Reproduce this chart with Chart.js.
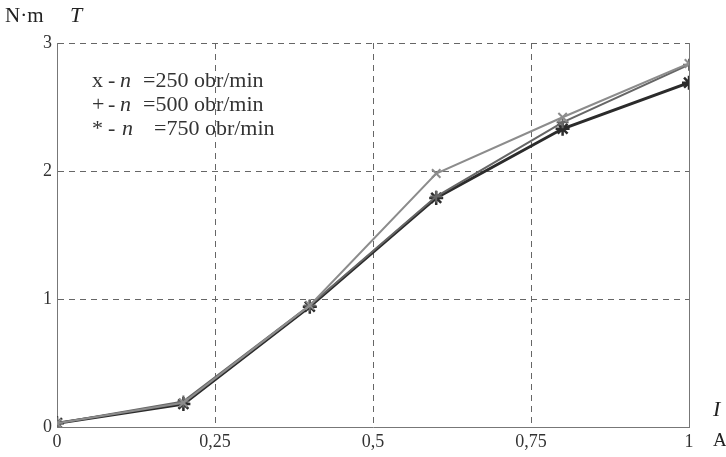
<!DOCTYPE html>
<html>
<head>
<meta charset="utf-8">
<script src="https://cdn.jsdelivr.net/npm/chart.js@4/dist/chart.umd.min.js"></script>
<style>
  html, body { margin: 0; padding: 0; background: #fff; }
  #chartArea { width: 726px; height: 457px; }
</style>
</head>
<body>
<div id="chartArea"><canvas id="myChart" width="726" height="457"></canvas></div>
<script>
// current I [A]
const currentLabel = [0, 0.2, 0.4, 0.6, 0.8, 1.0];
// torque T [N·m] for each speed
const torque250 = [0.03, 0.19, 0.95, 1.98, 2.42, 2.84];
const torque500 = [0.03, 0.2, 0.95, 1.8, 2.38, 2.83];
const torque750 = [0.03, 0.18, 0.94, 1.79, 2.33, 2.69];
const xTicks = [0, 0.25, 0.5, 0.75, 1];
const yTicks = [0, 1, 2, 3];
const legendLabels = ['=250 obr/min', '=500 obr/min', '=750 obr/min'];
const legendMarks = ['x', '+', '*'];

const serif = '"Liberation Serif", "Times New Roman", serif';

function toPoints(values) {
  return currentLabel.map((x, i) => ({ x: x, y: values[i] }));
}

// draws axis titles, the in-plot legend and the right frame
const extraText = {
  id: 'extraText',
  afterDraw(chart) {
    const ctx = chart.ctx;
    const area = chart.chartArea;
    ctx.save();
    ctx.strokeStyle = '#777';
    ctx.lineWidth = 1;
    ctx.beginPath();
    ctx.moveTo(area.right + 0.5, area.top);
    ctx.lineTo(area.right + 0.5, area.bottom);
    ctx.stroke();

    ctx.fillStyle = '#222';
    ctx.textBaseline = 'middle';
    ctx.textAlign = 'left';
    ctx.font = '21px ' + serif;
    ctx.fillText('N·m', 5, 16);
    ctx.font = 'italic 22px ' + serif;
    ctx.fillText('T', 70, 16);
    ctx.fillText('I', 713, 410);
    ctx.font = '19px ' + serif;
    ctx.fillText('A', 713, 441);

    ctx.fillStyle = '#333';
    legendLabels.forEach((label, i) => {
      const y = 81 + i * 24;
      ctx.font = '22px ' + serif;
      ctx.fillText(legendMarks[i], 92, y);
      ctx.fillText('-', 108, y);
      ctx.font = 'italic 22px ' + serif;
      ctx.fillText('n', i == 2 ? 122 : 120, y);
      ctx.font = '22px ' + serif;
      ctx.fillText(label, i == 2 ? 154 : 143, y);
    });
    ctx.restore();
  },
};

function createChart() {
  const ctx = document.getElementById('myChart').getContext('2d');
  new Chart(ctx, {
    type: 'line',
    data: {
      datasets: [
        {
          label: 'n=250',
          data: toPoints(torque250),
          borderColor: '#8c8c8c',
          borderWidth: 2,
          pointStyle: 'crossRot',
          pointRadius: 6,
          pointBorderWidth: 2,
          pointBorderColor: '#8c8c8c',
          tension: 0,
        },
        {
          label: 'n=500',
          data: toPoints(torque500),
          borderColor: '#666',
          borderWidth: 2,
          pointStyle: 'cross',
          pointRadius: 6,
          pointBorderWidth: 2,
          pointBorderColor: '#666',
          tension: 0,
        },
        {
          label: 'n=750',
          data: toPoints(torque750),
          borderColor: '#2b2b2b',
          borderWidth: 3,
          pointStyle: 'star',
          pointRadius: 7,
          pointBorderWidth: 2.5,
          pointBorderColor: '#2b2b2b',
          tension: 0,
        },
      ],
    },
    options: {
      responsive: false,
      animation: false,
      events: [],
      layout: { padding: { left: 0, top: 43, right: 37, bottom: 0 } },
      plugins: { legend: { display: false }, tooltip: { enabled: false } },
      scales: {
        x: {
          type: 'linear',
          min: 0,
          max: 1,
          afterBuildTicks: (scale) => {
            scale.ticks = xTicks.map((v) => ({ value: v }));
          },
          afterFit: (scale) => {
            scale.height = 30;
          },
          grid: { color: '#666', lineWidth: 1, drawTicks: false },
          border: { color: '#777', width: 1, dash: [6, 5] },
          ticks: {
            padding: 4,
            color: '#333',
            font: { family: serif, size: 18 },
            maxRotation: 0,
            callback: (v) => String(v).replace('.', ','),
          },
        },
        y: {
          min: 0,
          max: 3,
          afterBuildTicks: (scale) => {
            scale.ticks = yTicks.map((v) => ({ value: v }));
          },
          afterFit: (scale) => {
            scale.width = 57;
          },
          grid: { color: '#666', lineWidth: 1, drawTicks: false },
          border: { color: '#777', width: 1, dash: [6, 5] },
          ticks: {
            padding: 5,
            color: '#333',
            font: { family: serif, size: 18 },
          },
        },
      },
    },
    plugins: [extraText],
  });
}

createChart();
</script>
</body>
</html>
